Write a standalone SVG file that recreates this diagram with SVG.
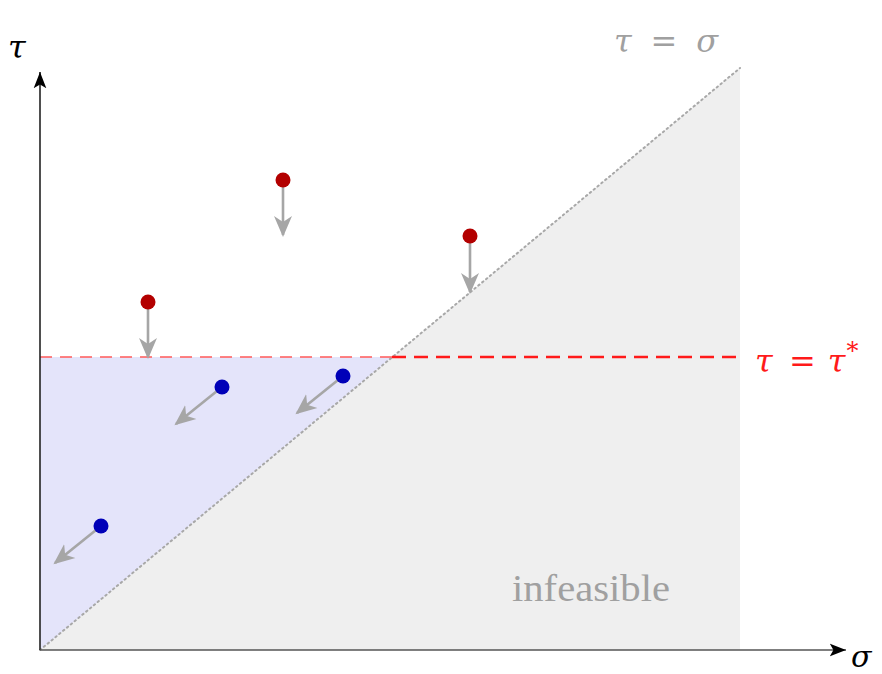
<svg xmlns="http://www.w3.org/2000/svg" width="882" height="674" viewBox="0 0 882 674">
<style>
.math{font-family:"DejaVu Serif","Liberation Serif",serif;font-style:italic}
.mv{stroke:#a6a6a6;stroke-width:2.6;fill:none;marker-end:url(#ah)}
.red{fill:#b30000}
.blue{fill:#0000b8}
</style>
<defs>
<marker id="ah" viewBox="0 0 22 22" refX="19" refY="11" markerWidth="22" markerHeight="22" markerUnits="userSpaceOnUse" orient="auto">
<path d="M0,2 L21,11 L0,20 L6,11 Z" fill="#a6a6a6"/>
</marker>
<marker id="ax" viewBox="0 0 20 20" refX="18" refY="10" markerWidth="18" markerHeight="18" markerUnits="userSpaceOnUse" orient="auto">
<path d="M0,3 L18,10 L0,17 L4,10 Z" fill="#000"/>
</marker>
</defs>
<rect width="882" height="674" fill="#fff"/>
<g id="regions">
<polygon points="40,650 740,68 740,650" fill="#efefef"/>
<polygon points="40,357 392,357 40,650" fill="#e4e4fa"/>
</g>
<g id="lines">
<line x1="40" y1="650" x2="740" y2="68" stroke="#a8a8a8" stroke-width="2" stroke-dasharray="1.5 3.5" stroke-linecap="round"/>
<line x1="40" y1="357" x2="392" y2="357" stroke="#ff5a5a" stroke-width="1.6" stroke-dasharray="12 8"/>
<line x1="392" y1="357" x2="740" y2="357" stroke="#ff1a1a" stroke-width="2.6" stroke-dasharray="14 8"/>
</g>
<g id="axes">
<line x1="40" y1="650" x2="40" y2="72" stroke="#222" stroke-width="1.6" marker-end="url(#ax)"/>
<line x1="40" y1="650" x2="846" y2="650" stroke="#555" stroke-width="1.6" marker-end="url(#ax)"/>
</g>
<g id="labels">
<text class="math" x="8" y="58" font-size="32" fill="#000">τ</text>
<text class="math" x="851" y="667" font-size="30" fill="#000">σ</text>
<text class="math" x="614" y="52" font-size="32" fill="#a0a0a0" textLength="104" lengthAdjust="spacing">τ <tspan font-style="normal">=</tspan> σ</text>
<text class="math" x="755" y="372" font-size="32" fill="#ff1a1a">τ <tspan font-style="normal" dx="6">=</tspan><tspan dx="12">τ</tspan><tspan font-size="24" dy="-13" dx="1" font-style="normal">*</tspan></text>
<text x="512" y="601" font-family="Liberation Serif,serif" font-size="37" fill="#a0a0a0" textLength="158" lengthAdjust="spacingAndGlyphs">infeasible</text>
</g>
<g id="connectors">
<line class="mv" x1="148" y1="302" x2="148" y2="357"/>
<line class="mv" x1="283" y1="180" x2="283" y2="235"/>
<line class="mv" x1="470" y1="236" x2="470" y2="292"/>
<line class="mv" x1="222" y1="387" x2="176" y2="424"/>
<line class="mv" x1="343" y1="376" x2="297" y2="413"/>
<line class="mv" x1="101" y1="526" x2="55" y2="563"/>
</g>
<g id="p1"><circle class="red" cx="148" cy="302" r="7.5"/></g>
<g id="p2"><circle class="red" cx="283" cy="180" r="7.5"/></g>
<g id="p3"><circle class="red" cx="470" cy="236" r="7.5"/></g>
<g id="p4"><circle class="blue" cx="222" cy="387" r="7.5"/></g>
<g id="p5"><circle class="blue" cx="343" cy="376" r="7.5"/></g>
<g id="p6"><circle class="blue" cx="101" cy="526" r="7.5"/></g>
</svg>
